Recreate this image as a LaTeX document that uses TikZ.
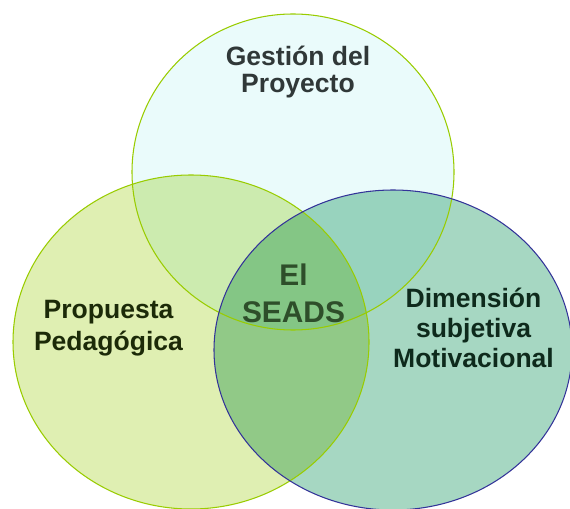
\documentclass[tikz,border=0pt]{standalone}
\usepackage{fontspec}
\setmainfont{Liberation Sans}
\definecolor{gestionfill}{HTML}{EAFBFB}
\definecolor{propuestafill}{HTML}{DFEFB2}
\definecolor{dimensionfill}{HTML}{A6D7C2}
\definecolor{limegreen}{HTML}{99CC00}
\definecolor{navyline}{HTML}{333399}
\definecolor{gestiontext}{HTML}{303838}
\definecolor{propuestatext}{HTML}{1C2A08}
\definecolor{dimensiontext}{HTML}{0E2A1C}
\definecolor{seadstext}{HTML}{2E4E2A}

\begin{document}
\begin{tikzpicture}[x=0.02cm, y=-0.02cm,
      every node/.style = {align=center, anchor=base, inner sep=0pt},
      vlabel/.style = {font=\bfseries\fontsize{15.1}{#1}\selectfont},
      rim/.style = {line width=0.6pt}]
    \clip (0,0) rectangle (570,509);
    \fill[white] (0,0) rectangle (570,509);
    % the three sets
    \begin{scope}[blend group=multiply]
      \fill[gestionfill] (293,172) ellipse [x radius=161, y radius=158];
      \fill[propuestafill] (191,342) ellipse [x radius=178, y radius=167];
      \fill[dimensionfill] (393,350) ellipse [x radius=179, y radius=160];
    \end{scope}
    \draw[rim, limegreen] (293,172) ellipse [x radius=161, y radius=158];
    \draw[rim, limegreen] (191,342) ellipse [x radius=178, y radius=167];
    \draw[rim, navyline] (393,350) ellipse [x radius=179, y radius=160];
    % labels (placed at the baseline of the last line)
    \node[vlabel=15.9, text=gestiontext] (gestion) at (298,93) {Gestión del\\Proyecto};
    \node[vlabel=18.1, text=propuestatext] (propuesta) at (108.5,350) {Propuesta\\Pedagógica};
    \node[vlabel=17, text=dimensiontext] (dimension) at (473.5,367) {Dimensión\\subjetiva\\Motivacional};
    \node[font=\bfseries\fontsize{17}{21}\selectfont, text=seadstext] (seads) at (293.5,322) {El\\SEADS};
\end{tikzpicture}
\end{document}
